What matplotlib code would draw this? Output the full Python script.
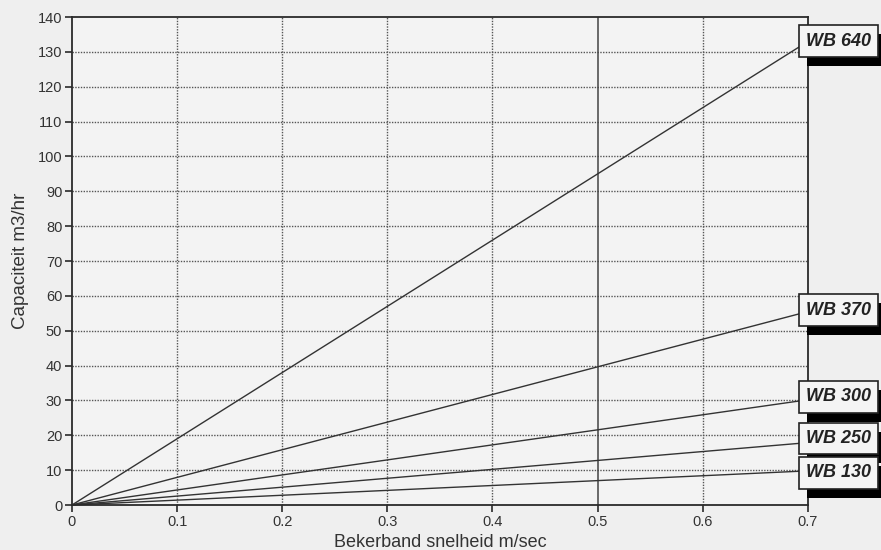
import matplotlib as mplt
mplt.use('Agg')
import numpy as np
import matplotlib.pyplot as plt
import matplotlib.patheffects as pe

plt.rcParams['font.family'] = ['Liberation Sans', 'DejaVu Sans']

# bucket elevator models and capacity (m3/hr) at max belt speed
models = ['WB 640', 'WB 370', 'WB 300', 'WB 250', 'WB 130']
speeds = [0.0, 0.7]
capacity_max = [133, 55.5, 30.2, 17.9, 9.8]
# small vertical nudges (points) so the label boxes don't collide
label_nudge = [0.3, 1.0, 2.0, 3.0, -1.5]

x_ticks = [0, 0.1, 0.2, 0.3, 0.4, 0.5, 0.6, 0.7]
x_tick_labels = ['0', '0.1', '0.2', '0.3', '0.4', '0.5', '0.6', '0.7']
y_ticks = list(range(0, 141, 10))

bg = '#efefef'
ink = '#2a2a2a'

fig = plt.figure(figsize=(8.81, 5.5), dpi=100, facecolor=bg)
ax = fig.add_axes([0.0817, 0.0818, 0.917 - 0.0817, 0.969 - 0.0818])
ax.set_facecolor('#f3f3f3')

ax.set_xlim(0, 0.7)
ax.set_ylim(0, 140)
ax.set_xticks(x_ticks)
ax.set_xticklabels(x_tick_labels)
ax.set_yticks(y_ticks)

# dotted grid, the 0.5 line drawn solid
for yv in y_ticks[1:-1]:
    ax.axhline(yv, color='#555555', lw=1.0, ls=(0, (1, 1)), zorder=1)
for xv in x_ticks[1:-1]:
    if xv == 0.5:
        ax.axvline(xv, color='#444444', lw=1.1, ls='-', zorder=1)
    else:
        ax.axvline(xv, color='#555555', lw=1.0, ls=(0, (1, 1)), zorder=1)

for side in ['left', 'bottom', 'top', 'right']:
    ax.spines[side].set_color(ink)
    ax.spines[side].set_linewidth(1.3)

ax.tick_params(axis='both', direction='out', length=5, width=1.2, color=ink,
               labelsize=10.5, labelcolor='#333333', pad=2)

for name, cap in zip(models, capacity_max):
    ax.plot(speeds, [0, cap], color='#333333', lw=1.0, zorder=2, clip_on=False)

for name, cap, dy in zip(models, capacity_max, label_nudge):
    t = ax.annotate(name, xy=(speeds[-1], cap), xytext=(-1.5, dy), textcoords='offset points',
                    ha='left', va='center', fontsize=13, fontweight='bold', fontstyle='italic',
                    color='#222222', annotation_clip=False, zorder=5,
                    bbox=dict(boxstyle='square,pad=0.4', fc='#f4f4f4', ec='#222222', lw=1.2))
    t.get_bbox_patch().set_path_effects([
        pe.SimplePatchShadow(offset=(6, -6.5), shadow_rgbFace='black', alpha=1.0),
        pe.Normal()])

ax.set_xlabel('Bekerband snelheid m/sec', fontsize=13, color='#333333', labelpad=4)
ax.set_ylabel('Capaciteit m3/hr', fontsize=13.5, color='#333333', labelpad=6)

plt.savefig('out.png', dpi=100, facecolor=bg)
